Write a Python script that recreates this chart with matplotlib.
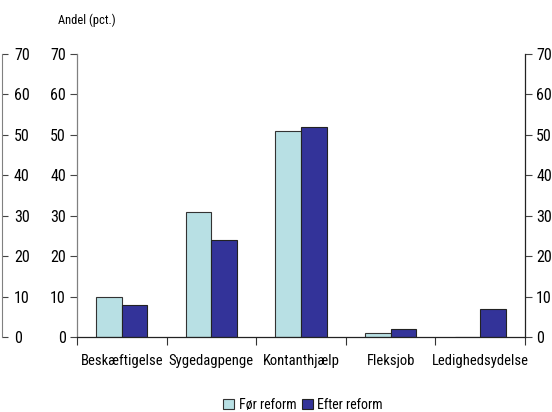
import matplotlib
matplotlib.use("Agg")
import matplotlib.pyplot as plt
import numpy as np
from matplotlib import font_manager as fm

categories = ["Beskæftigelse", "Sygedagpenge", "Kontanthjælp", "Fleksjob", "Ledighedsydelse"]
foer = [10, 31, 51, 1, 0]
efter = [8, 24, 52, 2, 7]
yticks = [0, 10, 20, 30, 40, 50, 60, 70]

available = {f.name for f in fm.fontManager.ttflist}
prefs = ['Liberation Sans Narrow', 'Arial Narrow', 'Nimbus Sans Narrow', 'Roboto Condensed',
         'Archivo Narrow', 'Asap Condensed', 'Barlow Condensed']
fams = [p for p in prefs if p in available] + ['Liberation Sans', 'DejaVu Sans']
plt.rcParams['font.family'] = fams

W, H = 552, 412
fig = plt.figure(figsize=(W/100, H/100), dpi=100)

x0, x1 = 77/W, 525/W
y0, y1 = (H-337)/H, (H-54)/H
ax = fig.add_axes([x0, y0, x1-x0, y1-y0])

light = "#B8E0E4"
dark = "#333399"
x = np.arange(len(categories))
w = 0.285
ax.bar(x - w/2, foer, width=w, color=light, edgecolor="#333333", linewidth=0.8, label="Før reform")
ax.bar(x + w/2, efter, width=w, color=dark, edgecolor="#222222", linewidth=0.8, label="Efter reform")

ax.set_xlim(-0.5, len(categories)-0.5)
ax.set_ylim(0, 70)
ax.set_yticks(yticks)
ax.set_xticks(x)
ax.set_xticklabels(categories, fontsize=10.5)
ax.set_xticks(np.arange(-0.5, len(categories)), minor=True)
ax.tick_params(axis='x', which='major', length=0, pad=12)
ax.tick_params(axis='x', which='minor', length=6, width=0.8, color="#333333")
ax.tick_params(axis='y', labelsize=11.5, length=5, width=0.8, left=True, right=True,
               labelleft=True, labelright=True, color="#444444", pad=3)
ax.spines['top'].set_visible(False)
ax.spines['left'].set_color("#808080")
ax.spines['right'].set_color("#222222")
ax.spines['bottom'].set_color("#222222")
for s in ax.spines.values():
    s.set_linewidth(0.9)

# ghost axis at far left (right spine of a cropped neighbouring chart)
gx = fig.add_axes([-0.5, y0, 0.5 + 1.5/W, y1-y0])
gx.set_ylim(0, 70)
gx.set_yticks(yticks)
gx.set_xticks([])
for s in ['top', 'left', 'bottom']:
    gx.spines[s].set_visible(False)
gx.spines['right'].set_color("#808080")
gx.yaxis.tick_right()
gx.tick_params(axis='y', labelsize=11.5, length=4, width=0.8, color="#444444", pad=5)
gx.patch.set_visible(False)

fig.text(58/W, 1 - 20/H, "Andel (pct.)", fontsize=9, ha='left', va='center')

leg = fig.legend(loc='center', bbox_to_anchor=(303/W, 1 - 405/H), ncol=2, frameon=False,
                 fontsize=10, handlelength=0.8, handleheight=0.8, handletextpad=0.3,
                 columnspacing=0.4, borderaxespad=0)

fig.savefig("out.png", dpi=100)
